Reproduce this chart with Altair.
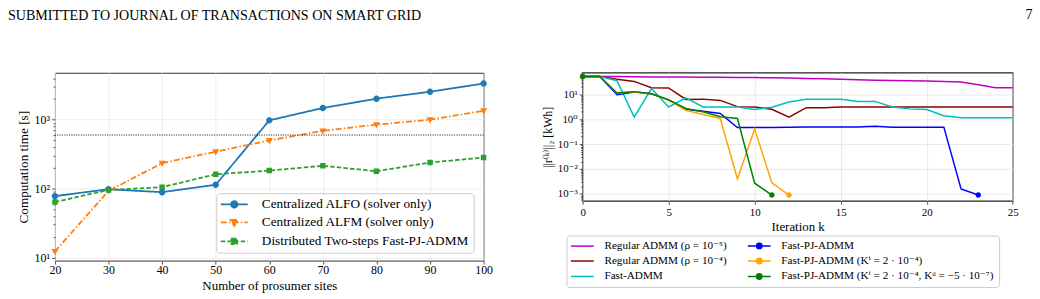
import altair as alt
import pandas as pd

SERIF = "Liberation Serif, DejaVu Serif, serif"

# ---------------- left panel: solver time vs. number of prosumer sites
sites = [20, 30, 40, 50, 60, 70, 80, 90, 100]
alfo_time = [78, 98, 89, 114, 980, 1480, 2020, 2550, 3350]
alfm_time = [12.3, 93, 235, 344, 500, 690, 850, 1000, 1350]
distributed_time = [64, 96, 105, 162, 183, 215, 179, 240, 283]
time_limit = [600]

left_methods = [
    "Centralized ALFO (solver only)",
    "Centralized ALFM (solver only)",
    "Distributed Two-steps Fast-PJ-ADMM",
]
left_colors = ["#1f77b4", "#ff7f0e", "#2ca02c"]
left_dashes = [[1, 0], [6, 2.2, 1.5, 2.2], [4.5, 2.2]]
left_y_ticks = [10, 20, 30, 40, 50, 60, 70, 80, 90,
                100, 200, 300, 400, 500, 600, 700, 800, 900,
                1000, 2000, 3000, 4000]

# ---------------- right panel: residual norm per iteration
regular_admm_1e5 = [52, 52, 51.5, 51, 50, 49.5, 49, 48.5, 48, 47.5, 47, 46, 45,
                    43.5, 42, 40, 38.5, 37, 36, 35, 34, 33, 31, 24, 18.5, 18.5]
regular_admm_1e4 = [52, 52, 40, 33, 18.5, 18, 6.2, 6.4, 5.7, 3.2, 3.1, 2.5, 1.2,
                    2.9, 2.9, 3.1, 3.1, 3.1, 3.1, 3.1, 3.1, 3.1, 3.1, 3.1, 3.1, 3.1]
fast_admm = [52, 52, 35, 1.22, 17, 3.1, 7.2, 3.1, 3.1, 3.1, 2.45, 3.0, 4.9,
             6.3, 6.4, 6.3, 5.1, 5.2, 3.1, 2.6, 2.45, 1.37, 1.14, 1.14, 1.14, 1.14]
fast_pj_admm = [52, 52, 9.7, 12.4, 10.6, 6.0, 2.5, 2.1, 1.7, 0.46, 0.46, 0.46,
                0.48, 0.49, 0.49, 0.49, 0.49, 0.52, 0.48, 0.48, 0.48, 0.48,
                0.0016, 0.0009]
fast_pj_admm_ki = [52, 52, 11, 12.6, 10.4, 5.9, 2.3, 1.55, 1.07, 0.004, 0.4,
                   0.0028, 0.0009]
fast_pj_admm_ki_kd = [52, 52, 11.2, 12.8, 10.6, 6.0, 2.7, 2.0, 1.25, 1.07,
                      0.0027, 0.0009]

right_methods = [
    "Regular ADMM (ρ = 10⁻⁵)",
    "Regular ADMM (ρ = 10⁻⁴)",
    "Fast-ADMM",
    "Fast-PJ-ADMM",
    "Fast-PJ-ADMM (Kⁱ = 2 · 10⁻⁴)",
    "Fast-PJ-ADMM (Kⁱ = 2 · 10⁻⁴, Kᵈ = −5 · 10⁻⁷)",
]
right_colors = ["#bf00bf", "#8b0000", "#00bfbf", "#0000ff", "#ffa500", "#008000"]
right_x_ticks = [0, 5, 10, 15, 20, 25]
right_y_ticks = [m * 10.0 ** e for e in range(-4, 2) for m in range(1, 10)
                 if 5.2e-4 <= m * 10.0 ** e <= 73]

SUP = str.maketrans("0123456789-", "⁰¹²³⁴⁵⁶⁷⁸⁹⁻")
EXP = "round(log(datum.value) / LN10)"
IS_DECADE = f"abs(log(datum.value) / LN10 - {EXP}) < 0.000001"


def decade_labels(exponents):
    chain = "".join(f"{EXP} == {e} ? '10{str(e).translate(SUP)}' : " for e in exponents)
    return f"{IS_DECADE} ? ({chain}'') : ''"


def axis_style(label_size, title_size, grid_color, **extra):
    return dict(titleFont=SERIF, titleFontSize=title_size, titleFontWeight="normal",
                titleColor="black", labelFont=SERIF, labelFontSize=label_size,
                labelColor="black", tickColor="#333", tickWidth=0.8,
                domain=False, grid=True, gridColor=grid_color, gridWidth=0.8, **extra)


# Marker glyphs in unit size.  Each carries a long open stroke segment: the
# plotted markers are fill-only, so the segment shows up in the legend alone.
def with_segment(half_length, marker=""):
    return f"M-{half_length},0L{half_length},0" + marker


CIRCLE = "M1,0A1,1,0,1,1,-1,0A1,1,0,1,1,1,0Z"
TRI_DOWN = "M-1.1,-0.75L1.1,-0.75L0,1.15Z"
SQUARE = "M-0.85,-0.85L0.85,-0.85L0.85,0.85L-0.85,0.85Z"

# ---------------- left panel
left_rows = []
for name, series in zip(left_methods, [alfo_time, alfm_time, distributed_time]):
    for s, v in zip(sites, series):
        left_rows.append({"method": name, "sites": s, "time": v})
left_df = pd.DataFrame(left_rows)

left_x = alt.X(
    "sites:Q",
    scale=alt.Scale(domain=[20, 100], nice=False, zero=False),
    axis=alt.Axis(values=sites, title="Number of prosumer sites", titlePadding=4,
                  labelPadding=1, labelFlush=False, tickSize=3.5,
                  **axis_style(12, 13.1, "#e8e8e8")),
)
left_y = alt.Y(
    "time:Q",
    scale=alt.Scale(type="log", domain=[9.06, 4800], nice=False),
    axis=alt.Axis(values=left_y_ticks, labelExpr=decade_labels([1, 2, 3]),
                  title="Computation time [s]", titlePadding=4, labelPadding=2,
                  labelOverlap=False,
                  tickSize={"condition": {"test": IS_DECADE, "value": 3.5}, "value": 2},
                  gridOpacity={"condition": {"test": IS_DECADE, "value": 1}, "value": 0},
                  **axis_style(12, 13.3, "#e8e8e8")),
)
left_color_scale = alt.Scale(domain=left_methods, range=left_colors)
left_dash_scale = alt.Scale(domain=left_methods, range=left_dashes)
left_shape_scale = alt.Scale(domain=left_methods,
                             range=[with_segment(4.2, CIRCLE), with_segment(4.2, TRI_DOWN),
                                    with_segment(4.2, SQUARE)])

left_legend = alt.Legend(
    title=None, orient="none", legendX=163, legendY=121.7, direction="vertical",
    labelFont=SERIF, labelFontSize=13.4, labelColor="black", labelLimit=0,
    symbolSize=42, symbolOffset=6.95, labelOffset=21.1, symbolStrokeWidth=1.8,
    padding=4.5, rowPadding=3.2,
    strokeColor="#cccccc", fillColor="rgba(255,255,255,0.85)", cornerRadius=3,
)

left_lines = alt.Chart(left_df).mark_line(strokeWidth=1.8).encode(
    x=left_x, y=left_y,
    color=alt.Color("method:N", scale=left_color_scale, legend=left_legend),
    strokeDash=alt.StrokeDash("method:N", scale=left_dash_scale, legend=left_legend),
)
left_markers = alt.Chart(left_df).mark_point(filled=True, opacity=1, size=42).encode(
    x=left_x, y=left_y,
    color=alt.Color("method:N", scale=left_color_scale, legend=left_legend),
    shape=alt.Shape("method:N", scale=left_shape_scale, legend=left_legend),
)
left_limit = alt.Chart(pd.DataFrame({"time": time_limit})).mark_rule(
    color="black", strokeDash=[1.2, 1.2], strokeWidth=0.8
).encode(y=alt.Y("time:Q"))

left = alt.layer(left_lines, left_markers, left_limit).properties(
    width=433, height=189.7,
    title=alt.TitleParams("SUBMITTED TO JOURNAL OF TRANSACTIONS ON SMART GRID", anchor="start",
                          frame="group", dx=-47.5, offset=49.8, font="Liberation Serif",
                          fontSize=14.2, fontWeight="normal", color="black"),
    view=alt.ViewBackground(stroke="#333333", strokeWidth=1),
)

# ---------------- right panel
right_series = [regular_admm_1e5, regular_admm_1e4, fast_admm,
                fast_pj_admm, fast_pj_admm_ki, fast_pj_admm_ki_kd]
right_rows, marker_rows = [], []
for name, series in zip(right_methods, right_series):
    for k, v in enumerate(series):
        right_rows.append({"method": name, "k": k, "residual": v})
for name, series in zip(right_methods[3:], right_series[3:]):
    marker_rows.append({"method": name, "k": 0, "residual": series[0]})
    marker_rows.append({"method": name, "k": len(series) - 1, "residual": series[-1]})
right_df = pd.DataFrame(right_rows)
marker_df = pd.DataFrame(marker_rows)

right_x = alt.X(
    "k:Q",
    scale=alt.Scale(domain=[0, 25], nice=False, zero=False),
    axis=alt.Axis(values=right_x_ticks, title="Iteration k", titlePadding=3,
                  labelPadding=2, labelFlush=False, tickSize=3.5,
                  **axis_style(11, 13, "#e3e3e3")),
)
right_y = alt.Y(
    "residual:Q",
    scale=alt.Scale(type="log", domain=[5.26e-4, 73.2], nice=False),
    axis=alt.Axis(values=right_y_ticks, labelExpr=decade_labels([-3, -2, -1, 0, 1]),
                  title="||r⁽ᵏ⁾||₂ [kWh]", titlePadding=3, labelPadding=2,
                  labelOverlap=False,
                  tickSize={"condition": {"test": IS_DECADE, "value": 3.5}, "value": 2},
                  gridOpacity={"condition": {"test": IS_DECADE, "value": 1}, "value": 0},
                  **axis_style(11, 12, "#e3e3e3")),
)
right_color_scale = alt.Scale(domain=right_methods, range=right_colors)
right_shape_scale = alt.Scale(
    domain=right_methods,
    range=[with_segment(4.2), with_segment(4.2), with_segment(4.2),
           with_segment(4.2, CIRCLE), with_segment(4.2, CIRCLE), with_segment(4.2, CIRCLE)],
)

right_legend = alt.Legend(
    title=None, orient="none", legendX=-16.3, legendY=164.4, direction="vertical", columns=2,
    labelFont=SERIF, labelFontSize=11.3, labelColor="black", labelLimit=0,
    symbolSize=30, symbolOffset=5.85, labelOffset=16.7, symbolStrokeWidth=1.5,
    padding=4.5, rowPadding=2.6, columnPadding=15.7,
    strokeColor="#cccccc", fillColor="white", cornerRadius=3,
)
right_lines = alt.Chart(right_df).mark_line(strokeWidth=1.5).encode(
    x=right_x, y=right_y,
    color=alt.Color("method:N", scale=right_color_scale, legend=right_legend),
)
right_points = alt.Chart(marker_df).mark_point(filled=True, opacity=1, size=30).encode(
    x=right_x, y=right_y,
    color=alt.Color("method:N", scale=right_color_scale, legend=right_legend),
    shape=alt.Shape("method:N", scale=right_shape_scale, legend=right_legend),
)
right = alt.layer(right_lines, right_points).properties(
    width=434.4, height=129.4,
    title=alt.TitleParams("7", anchor="end", frame="group", dx=20, offset=46.1,
                          font="Liberation Serif", fontSize=14.2, fontWeight="normal",
                          color="black"),
    view=alt.ViewBackground(stroke="#222222", strokeWidth=1.3),
)

chart = alt.hconcat(left, right, spacing=42).resolve_scale(
    color="independent", shape="independent", strokeDash="independent",
).properties(
    padding={"left": 7.5, "top": 5, "right": 6, "bottom": 4},
    background="white",
)

chart.save("out.html", embed_options={"renderer": "svg", "actions": False})
